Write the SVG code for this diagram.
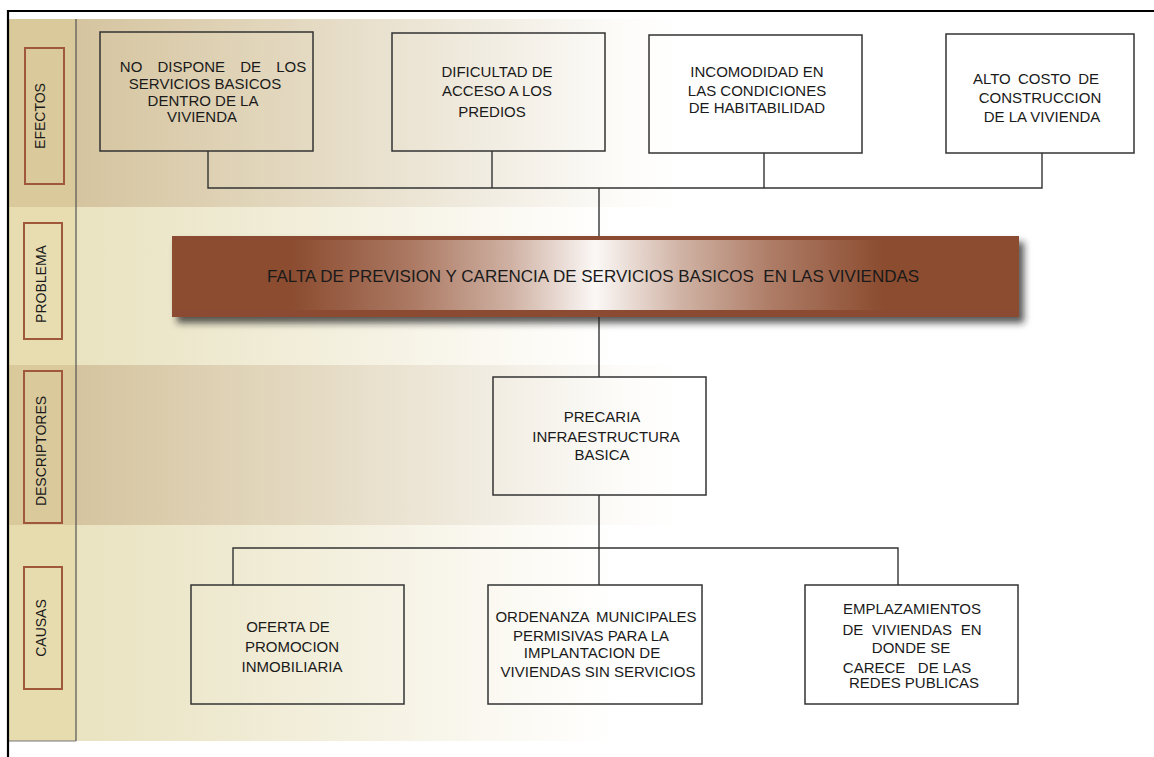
<svg xmlns="http://www.w3.org/2000/svg" width="1154" height="757" viewBox="0 0 1154 757">
<defs>
<style>
text{font-family:"Liberation Sans",Arial,sans-serif;fill:#1a1a1a;}
.t{font-size:15px;text-anchor:middle;}
.lab{font-size:14px;text-anchor:middle;}
.box{fill:none;stroke:#333;stroke-width:1.5;}
.lbox{fill:none;stroke:#a0583a;stroke-width:2;}
.con{fill:none;stroke:#333;stroke-width:1.4;}
</style>
<linearGradient id="gDark" x1="0" y1="0" x2="1" y2="0">
<stop offset="0" stop-color="#d5c49f"/>
<stop offset="0.2" stop-color="#e3d8bf"/>
<stop offset="0.38" stop-color="#f1ece1"/>
<stop offset="0.5" stop-color="#fcfbf8"/>
<stop offset="0.56" stop-color="#ffffff"/>
<stop offset="1" stop-color="#ffffff"/>
</linearGradient>
<linearGradient id="gLight" x1="0" y1="0" x2="1" y2="0">
<stop offset="0" stop-color="#e9e3c0"/>
<stop offset="0.18" stop-color="#f0ecd6"/>
<stop offset="0.38" stop-color="#faf8f0"/>
<stop offset="0.5" stop-color="#ffffff"/>
<stop offset="1" stop-color="#ffffff"/>
</linearGradient>
<linearGradient id="gBar" x1="0" y1="0" x2="1" y2="0">
<stop offset="0" stop-color="#8b4c30"/>
<stop offset="0.14" stop-color="#8b4c30"/>
<stop offset="0.28" stop-color="#ab7862"/>
<stop offset="0.4" stop-color="#cfb1a3"/>
<stop offset="0.5" stop-color="#fbf8f6"/>
<stop offset="0.6" stop-color="#d0b3a5"/>
<stop offset="0.71" stop-color="#ad7b65"/>
<stop offset="0.84" stop-color="#8b4c30"/>
<stop offset="1" stop-color="#8b4c30"/>
</linearGradient>
<filter id="sh" x="-5%" y="-20%" width="112%" height="160%">
<feDropShadow dx="5" dy="6" stdDeviation="3.5" flood-color="#222" flood-opacity="0.75"/>
</filter>
</defs>

<g id="background">
<rect x="0" y="0" width="1154" height="757" fill="#ffffff"/>
<rect x="76" y="19" width="1078" height="188" fill="url(#gDark)"/>
<rect x="76" y="207" width="1078" height="158" fill="url(#gLight)"/>
<rect x="76" y="365" width="1078" height="160" fill="url(#gDark)"/>
<rect x="76" y="525" width="1078" height="216" fill="url(#gLight)"/>
<rect x="9" y="19" width="67" height="188" fill="#d9c99b"/>
<rect x="9" y="207" width="67" height="158" fill="#e7ddb1"/>
<rect x="9" y="365" width="67" height="160" fill="#d9c99b"/>
<rect x="9" y="525" width="67" height="216" fill="#e6dcae"/>
<line x1="76" y1="19" x2="76" y2="741" stroke="#555" stroke-width="1.2"/>
<line x1="9" y1="741" x2="76" y2="741" stroke="#777" stroke-width="1.2"/>
<line x1="8" y1="11" x2="1154" y2="11" stroke="#000" stroke-width="2.2"/>
<line x1="8" y1="10" x2="8" y2="757" stroke="#000" stroke-width="2.2"/>
</g>

<g id="row-labels">
<g id="lab-efectos"><rect class="lbox" x="25" y="48" width="39" height="136"/><text class="lab" transform="translate(45,116) rotate(-90)">EFECTOS</text></g>
<g id="lab-problema"><rect class="lbox" x="24" y="223" width="38" height="116"/><text class="lab" transform="translate(46,284) rotate(-90)">PROBLEMA</text></g>
<g id="lab-descriptores"><rect class="lbox" x="24" y="371" width="38" height="152"/><text class="lab" transform="translate(46,451) rotate(-90)">DESCRIPTORES</text></g>
<g id="lab-causas"><rect class="lbox" x="24" y="567" width="38" height="122"/><text class="lab" transform="translate(46,628) rotate(-90)">CAUSAS</text></g>
</g>

<g id="connectors">
<polyline class="con" points="208,151 208,188 1042,188 1042,153"/>
<line class="con" x1="492" y1="151" x2="492" y2="188"/>
<line class="con" x1="764" y1="153" x2="764" y2="188"/>
<line class="con" x1="599" y1="188" x2="599" y2="236"/>
<line class="con" x1="599" y1="317" x2="599" y2="377"/>
<line class="con" x1="599" y1="495" x2="599" y2="585"/>
<polyline class="con" points="233,585 233,548 898,548 898,585"/>
</g>

<g id="e1"><rect class="box" x="100" y="32" width="213" height="119"/>
<text class="t" x="213" y="72" style="word-spacing:11px">NO DISPONE DE LOS</text>
<text class="t" x="205" y="89">SERVICIOS BASICOS</text>
<text class="t" x="203" y="106">DENTRO DE LA</text>
<text class="t" x="202" y="122">VIVIENDA</text></g>

<g id="e2"><rect class="box" x="392" y="33" width="213" height="118"/>
<text class="t" x="497" y="77">DIFICULTAD DE</text>
<text class="t" x="497" y="96">ACCESO A LOS</text>
<text class="t" x="492" y="117">PREDIOS</text></g>

<g id="e3"><rect class="box" x="649" y="35" width="213" height="118"/>
<text class="t" x="757" y="77">INCOMODIDAD EN</text>
<text class="t" x="757" y="96">LAS CONDICIONES</text>
<text class="t" x="757" y="113">DE HABITABILIDAD</text></g>

<g id="e4"><rect class="box" x="946" y="34" width="188" height="119"/>
<text class="t" x="1036" y="84" style="word-spacing:3px">ALTO COSTO DE</text>
<text class="t" x="1040" y="103">CONSTRUCCION</text>
<text class="t" x="1042" y="122">DE LA VIVIENDA</text></g>

<g id="problema">
<rect x="172" y="236" width="847" height="81" fill="#8b4c30" filter="url(#sh)"/>
<rect x="172" y="240" width="847" height="70" fill="url(#gBar)"/>
<text x="267" y="282" xml:space="preserve" style="font-size:17px">FALTA DE PREVISION Y CARENCIA DE SERVICIOS BASICOS  EN LAS VIVIENDAS</text>
</g>

<g id="descriptor"><rect class="box" x="493" y="377" width="213" height="118"/>
<text class="t" x="602" y="422">PRECARIA</text>
<text class="t" x="606" y="442">INFRAESTRUCTURA</text>
<text class="t" x="602" y="460">BASICA</text></g>

<g id="c1"><rect class="box" x="191" y="585" width="213" height="119"/>
<text class="t" x="288" y="632">OFERTA DE</text>
<text class="t" x="292" y="652">PROMOCION</text>
<text class="t" x="292" y="672">INMOBILIARIA</text></g>

<g id="c2"><rect class="box" x="488" y="585" width="214" height="119"/>
<text class="t" x="596" y="622" style="word-spacing:3px">ORDENANZA MUNICIPALES</text>
<text class="t" x="591" y="641">PERMISIVAS PARA LA</text>
<text class="t" x="592" y="658">IMPLANTACION DE</text>
<text class="t" x="598" y="677">VIVIENDAS SIN SERVICIOS</text></g>

<g id="c3"><rect class="box" x="805" y="585" width="213" height="119"/>
<text class="t" x="912" y="614">EMPLAZAMIENTOS</text>
<text class="t" x="912" y="635" style="word-spacing:4.5px">DE VIVIENDAS EN</text>
<text class="t" x="911" y="653">DONDE SE</text>
<text class="t" x="907" y="673" xml:space="preserve">CARECE   DE LAS</text>
<text class="t" x="914" y="688">REDES PUBLICAS</text></g>
</svg>
